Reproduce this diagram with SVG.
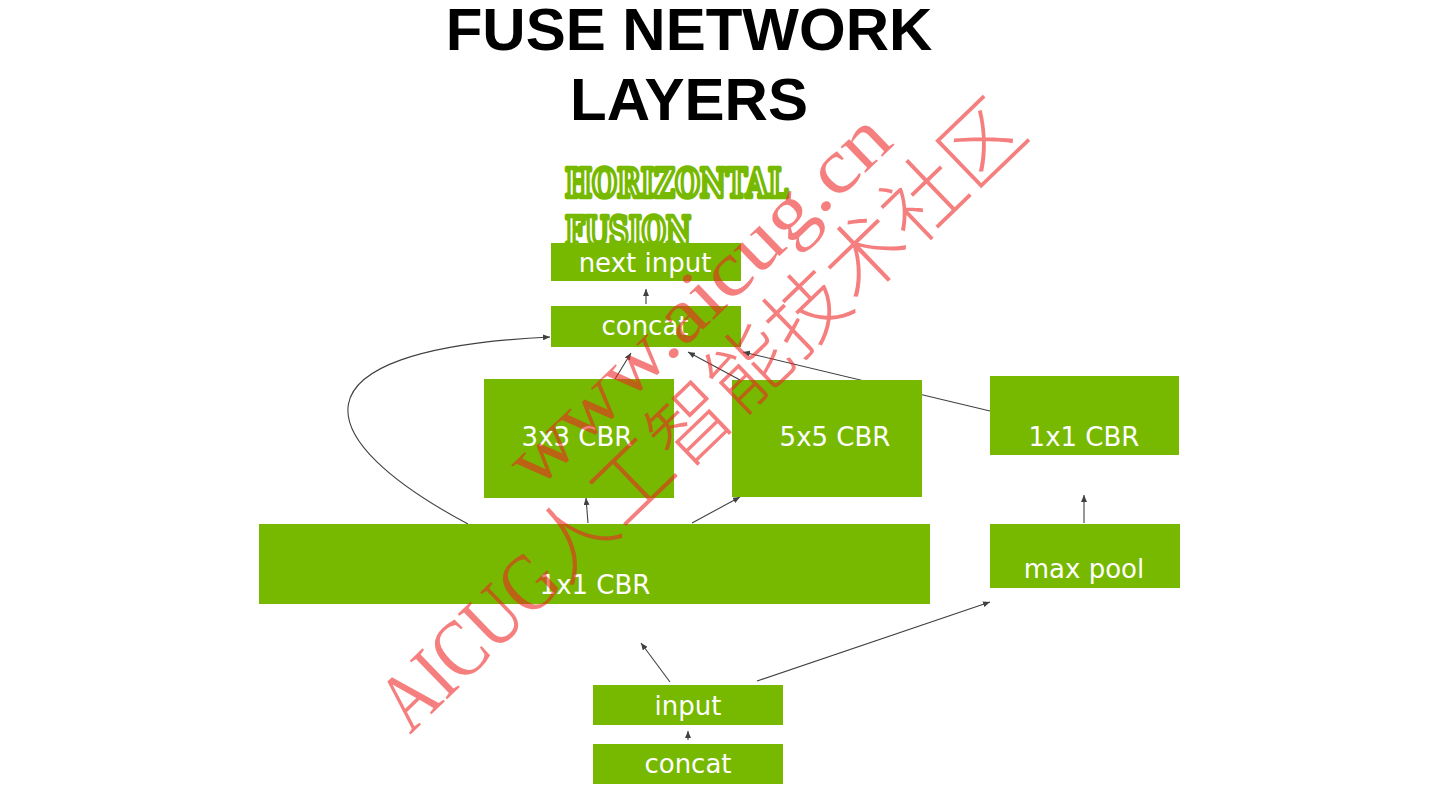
<svg xmlns="http://www.w3.org/2000/svg" width="1440" height="810" viewBox="0 0 1440 810">
<defs>
<marker id="arr" markerUnits="userSpaceOnUse" markerWidth="8" markerHeight="6" refX="7" refY="3" orient="auto">
<path d="M0,0 L7,3 L0,6 Z" fill="#404040"/>
</marker>
<style>
.box{fill:#76b900}
.lbl{font-family:"DejaVu Sans",sans-serif;font-size:26px;fill:#ffffff;text-anchor:middle}
.title{font-family:"Liberation Sans",Arial,sans-serif;font-weight:bold;font-size:60px;fill:#000000;text-anchor:middle}
.sub{font-family:"DejaVu Serif","Liberation Serif",serif;font-weight:bold;font-size:40px;fill:#ffffff;stroke:#76b900;stroke-width:4.5;stroke-linejoin:round}
.con{fill:none;stroke:#404040;stroke-width:1.1;marker-end:url(#arr)}
.wm{font-family:"Liberation Serif",serif;fill:rgb(237,35,35);fill-opacity:0.58}
.wmc{font-family:"Noto Sans CJK SC",sans-serif;font-weight:300;fill:rgb(237,35,35);fill-opacity:0.58}
</style>
</defs>
<rect width="1440" height="810" fill="#ffffff"/>

<g id="title">
<text class="title" x="689" y="50">FUSE NETWORK</text>
<text class="title" x="689" y="120">LAYERS</text>
</g>

<g id="subtitle">
<text class="sub" x="565" y="197" textLength="223" lengthAdjust="spacingAndGlyphs">HORIZONTAL</text>
<text class="sub" x="565" y="245" textLength="126" lengthAdjust="spacingAndGlyphs">FUSION</text>
</g>

<g id="connectors">
<line class="con" x1="646" y1="304" x2="646" y2="289"/>
<line class="con" x1="615" y1="379" x2="631" y2="353"/>
<line class="con" x1="740" y1="380" x2="688" y2="352"/>
<line class="con" x1="990" y1="411" x2="743" y2="352"/>
<line class="con" x1="588" y1="523" x2="586" y2="498"/>
<line class="con" x1="692" y1="523" x2="740" y2="497"/>
<path class="con" d="M468,524 C310,440 280,350 550,337"/>
<line class="con" x1="1084" y1="523" x2="1084" y2="495"/>
<line class="con" x1="670" y1="682" x2="641" y2="643"/>
<line class="con" x1="757" y1="681" x2="990" y2="602"/>
<line class="con" x1="688" y1="740" x2="688" y2="731"/>
</g>

<g id="next-input">
<rect class="box" x="551" y="243" width="190" height="38"/>
<text class="lbl" x="645" y="272">next input</text>
</g>
<g id="concat-top">
<rect class="box" x="551" y="306" width="190" height="41"/>
<text class="lbl" x="645" y="335">concat</text>
</g>
<g id="cbr-3x3">
<rect class="box" x="484" y="379" width="190" height="119"/>
<text class="lbl" x="577" y="446">3x3 CBR</text>
</g>
<g id="cbr-5x5">
<rect class="box" x="732" y="380" width="190" height="117"/>
<text class="lbl" x="835" y="446">5x5 CBR</text>
</g>
<g id="cbr-1x1-right">
<rect class="box" x="990" y="376" width="189" height="79"/>
<text class="lbl" x="1084" y="446">1x1 CBR</text>
</g>
<g id="cbr-1x1-big">
<rect class="box" x="259" y="524" width="671" height="80"/>
<text class="lbl" x="595" y="594">1x1 CBR</text>
</g>
<g id="max-pool">
<rect class="box" x="990" y="524" width="190" height="64"/>
<text class="lbl" x="1084" y="578">max pool</text>
</g>
<g id="input">
<rect class="box" x="593" y="685" width="190" height="40"/>
<text class="lbl" x="688" y="715">input</text>
</g>
<g id="concat-bottom">
<rect class="box" x="593" y="744" width="190" height="40"/>
<text class="lbl" x="688" y="773">concat</text>
</g>

<g id="watermark" transform="translate(410,735) rotate(-44)">
<text class="wm" x="260" y="-88" font-size="78" textLength="500" lengthAdjust="spacingAndGlyphs">www.aicug.cn</text>
<text class="wm" x="0" y="0" font-size="82" textLength="215" lengthAdjust="spacingAndGlyphs">AICUG</text>
<text class="wmc" x="215" y="0" font-size="81">人工智能技术社区</text>
</g>
</svg>
